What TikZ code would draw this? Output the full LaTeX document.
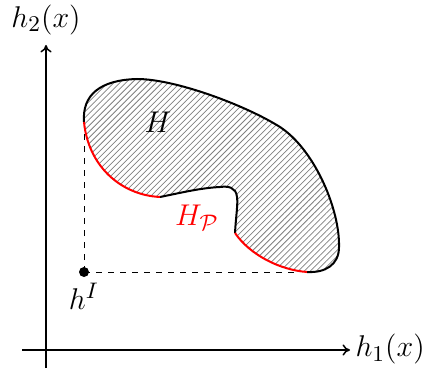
\documentclass[tikz,border=0pt]{standalone}
\usetikzlibrary{patterns.meta,arrows.meta}
\begin{document}
\begin{tikzpicture}[x=0.4pt,y=-0.4pt,
  every node/.style={font=\fontsize{12.5}{15}\selectfont},
  axis/.style={line width=0.6pt,-{To[length=3pt,width=4.5pt]}},
  outline/.style={line width=0.8pt,black},
  redseg/.style={line width=0.8pt,red},
  guide/.style={line width=0.4pt,dash pattern=on 2.4pt off 2.4pt},
  hatch/.style={pattern={Lines[angle=45,distance=1.7pt,line width=0.3pt]},pattern color=gray}]
\useasboundingbox (0,0) rectangle (424,371);
% axes
\coordinate (o1) at (22,350);
\coordinate (x1) at (350,350);
\coordinate (o2) at (46,368);
\coordinate (y2) at (46,45);
\draw[axis] (o1) -- (x1);
\draw[axis] (o2) -- (y2);
\node[anchor=west,inner sep=0pt] (lx) at (355,349) {$h_1(x)$};
\node[inner sep=0pt] (ly) at (46,20) {$h_2(x)$};
% key coordinates
\coordinate (A) at (84,122);
\coordinate (B) at (307,272);
\coordinate (C) at (235,233);
\coordinate (D) at (160,197);
\coordinate (hI) at (84,272);
\coordinate (hx) at (300,272);
% fill
\fill[hatch] (A) .. controls (82,95) and (100,80) .. (137,79)
  .. controls (175,79) and (245,105) .. (280,127)
  .. controls (315,150) and (340,210) .. (339,247)
  .. controls (339,265) and (325,273) .. (B)
  .. controls (280,270) and (250,255) .. (C)
  .. controls (236,215) and (238,205) .. (237,197)
  .. controls (236,187) and (228,186) .. (220,187)
  .. controls (200,188) and (180,193) .. (D)
  .. controls (120,195) and (88,165) .. (A) -- cycle;
% guides
\draw[guide] (hI) -- (A);
\draw[guide] (hI) -- (hx);
% outline
\draw[outline] (A) .. controls (82,95) and (100,80) .. (137,79)
  .. controls (175,79) and (245,105) .. (280,127)
  .. controls (315,150) and (340,210) .. (339,247)
  .. controls (339,265) and (325,273) .. (B);
\draw[outline] (C) .. controls (236,215) and (238,205) .. (237,197)
  .. controls (236,187) and (228,186) .. (220,187)
  .. controls (200,188) and (180,193) .. (D);
\draw[redseg] (B) .. controls (280,270) and (250,255) .. (C);
\draw[redseg] (D) .. controls (120,195) and (88,165) .. (A);
% point
\fill (hI) circle (2pt);
\node[inner sep=0pt] (lhI) at (84,296) {$h^I$};
\node[inner sep=0pt] (lH) at (158,122) {$H$};
\node[inner sep=0pt,red] (lHP) at (197,218) {$H_{\mathcal{P}}$};
\end{tikzpicture}
\end{document}
